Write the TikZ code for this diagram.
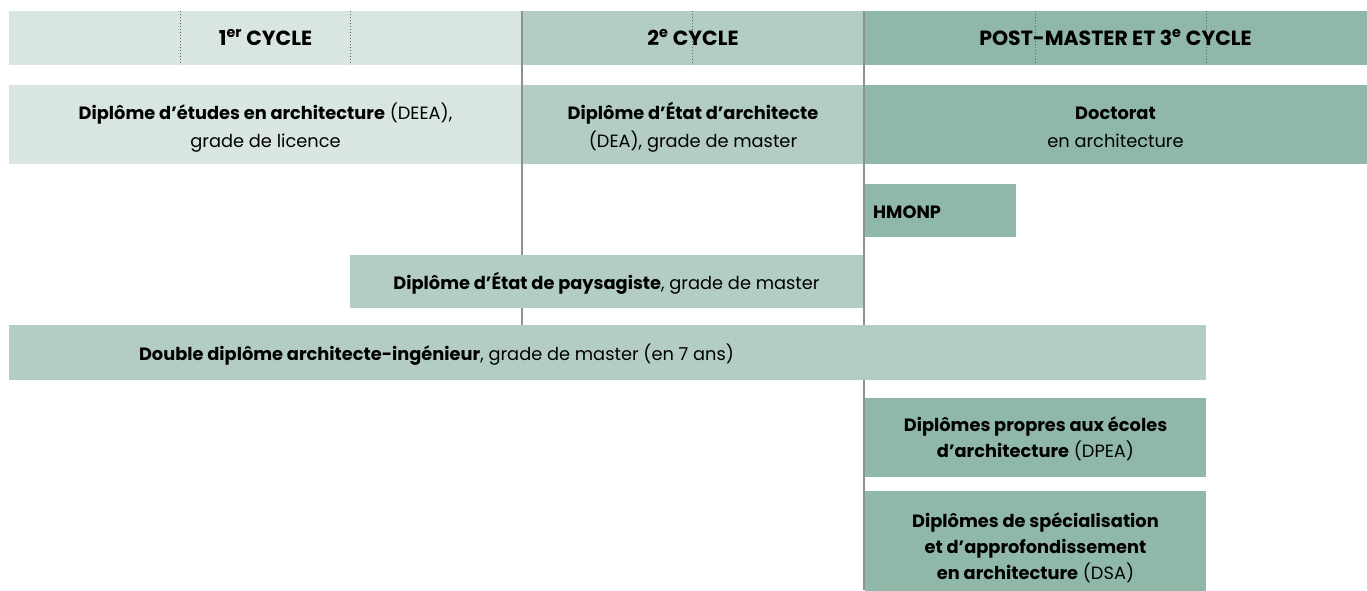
\documentclass[tikz,border=0pt]{standalone}
\usepackage{fontspec}
\setmainfont{Poppins}
\usetikzlibrary{positioning}
\definecolor{cyclea}{HTML}{D9E5E1}
\definecolor{cycleb}{HTML}{B3CDC3}
\definecolor{cyclec}{HTML}{8FB8A8}
\definecolor{sepgrey}{HTML}{8A9199}
\definecolor{divgrey}{HTML}{5F666C}
\tikzset{
  cell/.style={anchor=north west,inner sep=0pt,outer sep=0pt},
  head/.style={anchor=base,inner sep=0pt,font=\fontsize{20.5}{22}\selectfont\bfseries},
  txt/.style={anchor=base,inner sep=0pt,font=\fontsize{17.8}{26}\selectfont},
  sep/.style={draw=sepgrey,line width=1.3pt},
  yeardiv/.style={draw=divgrey,line width=0.9pt,dash pattern=on 1pt off 2pt}
}

\begin{document}
\begin{tikzpicture}[x=1pt,y=-1pt]
  \useasboundingbox (0,0) rectangle (1367,590);
  % cycles
  \node[cell,fill=cyclea,minimum width=513pt,minimum height=54pt] (c1) at (9,11) {};
  \node[cell,fill=cycleb,minimum width=342pt,minimum height=54pt,right=0pt of c1] (c2) {};
  \node[cell,fill=cyclec,minimum width=503pt,minimum height=54pt,right=0pt of c2] (c3) {};
  \foreach \x in {180,350,692,1035,1206}
    \draw[yeardiv] (\x,11) -- (\x,65);
  \node[head] (c1t) at ([yshift=-34.3pt]c1.north) {1\textsuperscript{er} CYCLE};
  \node[head] (c2t) at ([yshift=-34.3pt]c2.north) {2\textsuperscript{e} CYCLE};
  \node[head] (c3t) at ([yshift=-34.3pt]c3.north) {POST-MASTER ET 3\textsuperscript{e} CYCLE};
  % diplomas
  \node[cell,fill=cyclea,minimum width=513pt,minimum height=79pt,below=20pt of c1] (deea) {};
  \node[cell,fill=cycleb,minimum width=342pt,minimum height=79pt,below=20pt of c2] (dea) {};
  \node[cell,fill=cyclec,minimum width=503pt,minimum height=79pt,below=20pt of c3] (doc) {};
  \node[txt] (deea1) at ([yshift=-34.7pt]deea.north) {\textbf{Diplôme d’études en architecture} (DEEA),};
  \node[txt] (deea2) at ([yshift=-62pt]deea.north) {grade de licence};
  \node[txt] (dea1) at ([yshift=-34.7pt]dea.north) {\textbf{Diplôme d’État d’architecte}};
  \node[txt] (dea2) at ([yshift=-62pt]dea.north) {(DEA), grade de master};
  \node[txt] (doc1) at ([yshift=-34.7pt]doc.north) {\textbf{Doctorat}};
  \node[txt] (doc2) at ([yshift=-62pt]doc.north) {en architecture};
  \node[cell,fill=cyclec,minimum width=151pt,minimum height=53pt] (hmonp) at (865,184) {};
  \node[txt,anchor=base west] (hmonpt) at ([xshift=8pt,yshift=-34.5pt]hmonp.north west) {\textbf{HMONP}};
  \node[cell,fill=cycleb,minimum width=1197pt,minimum height=55pt] (dd) at (9,325) {};
  \draw[sep] (c2.north west) -- (c2.north west |- dd.north);
  \node[cell,fill=cycleb,minimum width=513pt,minimum height=53pt] (pays) at (350,255) {};
  \node[txt] (payst) at ([yshift=-34.7pt]pays.north) {\textbf{Diplôme d’État de paysagiste}, grade de master};
  \draw[sep] (c3.north west) -- (c3.north west |- 0,590);
  \node[cell,fill=cycleb,minimum width=1197pt,minimum height=55pt] (dd) at (9,325) {};
  \node[txt] (ddt) at (436.5,360) {\textbf{Double diplôme architecte-ingénieur}, grade de master (en 7 ans)};
  \node[cell,fill=cyclec,minimum width=341pt,minimum height=79pt] (dpea) at (865,398) {};
  \node[txt] (dpea1) at ([yshift=-33.7pt]dpea.north) {\textbf{Diplômes propres aux écoles}};
  \node[txt] (dpea2) at ([yshift=-59.5pt]dpea.north) {\textbf{d’architecture} (DPEA)};
  \node[cell,fill=cyclec,minimum width=341pt,minimum height=112pt] (dsa) at (865,491) {};
  \node[txt] (dsa1) at ([yshift=-36.7pt]dsa.north) {\textbf{Diplômes de spécialisation}};
  \node[txt] (dsa2) at ([yshift=-62.5pt]dsa.north) {\textbf{et d’approfondissement}};
  \node[txt] (dsa3) at ([yshift=-88.3pt]dsa.north) {\textbf{en architecture} (DSA)};
\end{tikzpicture}
\end{document}
